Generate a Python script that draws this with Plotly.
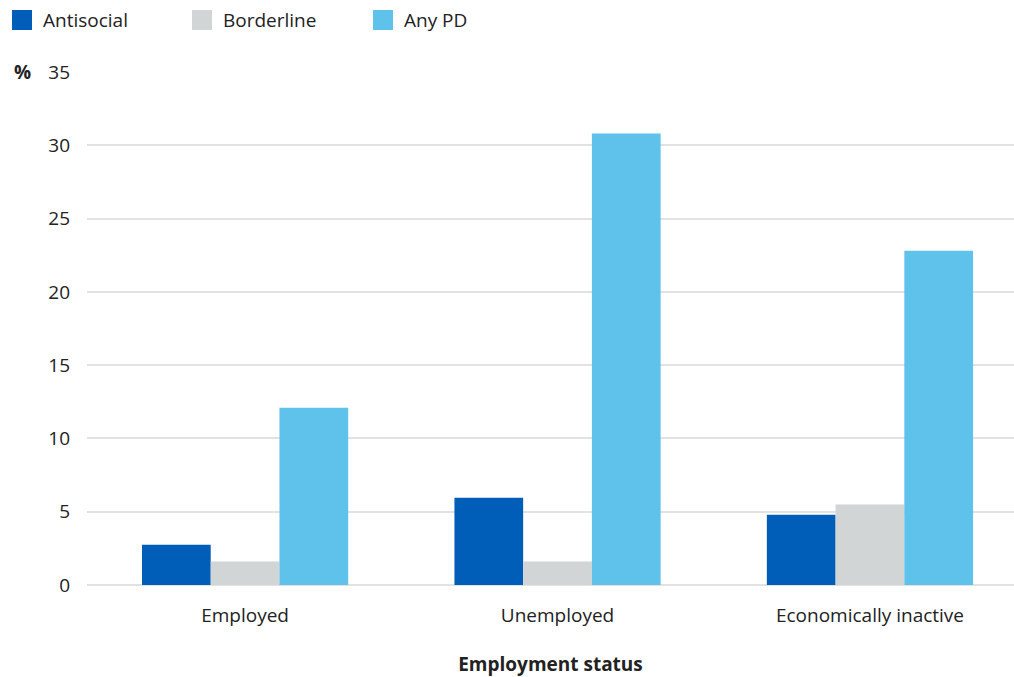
import plotly.graph_objects as go

categories = ["Employed", "Unemployed", "Economically inactive"]
antisocial = [2.75, 5.95, 4.8]
borderline = [1.6, 1.6, 5.5]
any_pd = [12.1, 30.8, 22.8]
series_names = ["Antisocial", "Borderline", "Any PD"]
colors = ["#005EB8", "#D1D5D6", "#5FC2EA"]

FONT = "Open Sans"
W, H = 1014, 677
ML, MR, MT, MB = 87, 0, 72, 92
PW, PH = W - ML - MR, H - MT - MB

def px(x):  # figure pixel x -> paper
    return (x - ML) / PW

def py(y):  # figure pixel y (from top) -> paper
    return (H - MB - y) / PH

fig = go.Figure()
for name, vals, col in zip(series_names, [antisocial, borderline, any_pd], colors):
    fig.add_trace(go.Bar(x=categories, y=vals, name=name, showlegend=False,
                         marker=dict(color=col, line=dict(width=0))))

fig.update_layout(
    width=W, height=H,
    margin=dict(l=ML, r=MR, t=MT, b=MB, autoexpand=False),
    barmode="group", bargap=0.34, bargroupgap=0,
    plot_bgcolor="white", paper_bgcolor="white",
    font=dict(family=FONT, size=19, color="#222222"),
    xaxis=dict(range=[-0.506, 2.461], showgrid=False, showline=False, ticks="",
               tickfont=dict(size=19), ticklabelstandoff=17,
               title=dict(text="<b>Employment status</b>", font=dict(size=19), standoff=32)),
    yaxis=dict(range=[0, 35], dtick=5, showgrid=True, gridcolor="#E2E2E2", gridwidth=1.5,
               zeroline=True, zerolinecolor="#E2E2E2", zerolinewidth=1.5, showline=False, ticks="",
               tickfont=dict(size=19), ticklabelstandoff=16),
)

# legend drawn manually with large square swatches
leg_x = [12, 192, 373]
for x0, name, col in zip(leg_x, series_names, colors):
    fig.add_shape(type="rect", xref="paper", yref="paper",
                  x0=px(x0), x1=px(x0 + 20), y0=py(30), y1=py(10),
                  fillcolor=col, line=dict(width=0), layer="above")
    fig.add_annotation(text=name, xref="paper", yref="paper", x=px(x0 + 29), y=py(20),
                       xanchor="left", yanchor="middle", showarrow=False,
                       font=dict(size=19, color="#222222"))

fig.add_annotation(text="<b>%</b>", xref="paper", yref="y", x=px(12), y=35,
                   xanchor="left", yanchor="middle", showarrow=False,
                   font=dict(size=19, color="#222222"))

fig.write_html(
    "out.html",
    config={"displayModeBar": False},
    post_script="document.body.style.margin='0';document.documentElement.style.overflow='hidden';document.body.style.overflow='hidden';",
)
